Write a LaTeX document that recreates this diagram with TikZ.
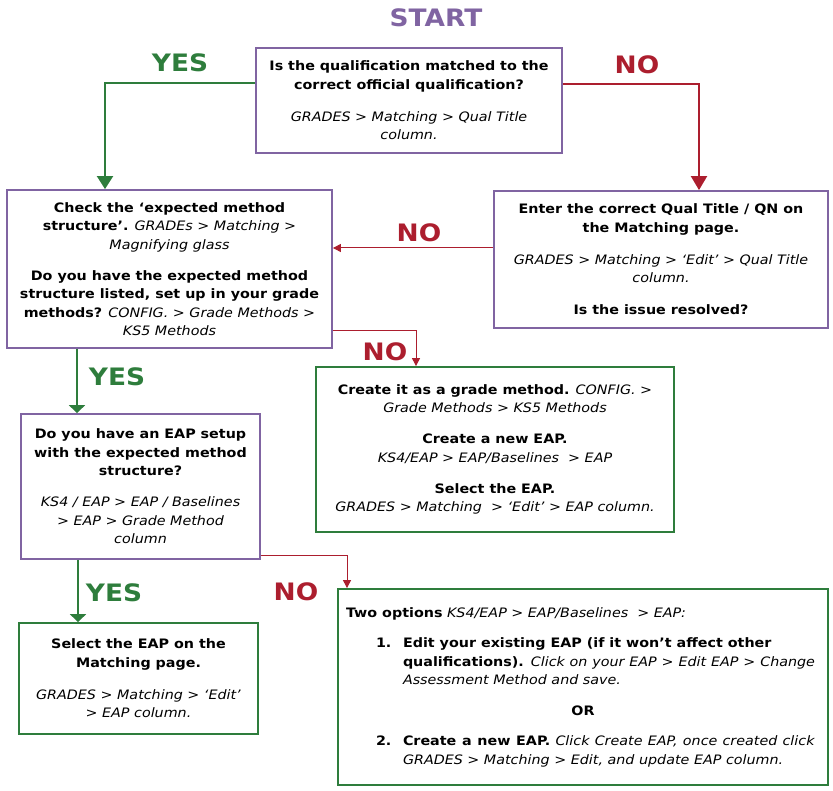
\documentclass[tikz,border=0pt]{standalone}
\usepackage{fontspec}
\setmainfont{DejaVu Sans}[FakeStretch=1.1]
\usetikzlibrary{arrows.meta}

\definecolor{qpurple}{RGB}{128,100,162}
\definecolor{okgreen}{RGB}{46,125,60}
\definecolor{nored}{RGB}{172,30,46}

\begin{document}
\begin{tikzpicture}[
  x=1pt, y=-1pt,
  font=\fontsize{13}{18.5}\selectfont,
  q/.style={draw=qpurple, line width=1.8pt, align=center, inner sep=0pt},
  act/.style={draw=okgreen, line width=1.8pt, align=center, inner sep=0pt},
  lbl/.style={font=\fontsize{24}{24}\selectfont\bfseries},
  yarr/.style={draw=okgreen, line width=2pt, -{Triangle[width=16pt,length=13pt]}},
  yarrs/.style={draw=okgreen, line width=2pt, -{Triangle[width=16pt,length=8pt]}},
  narr/.style={draw=nored, line width=2pt, -{Triangle[width=16pt,length=14pt]}},
  narrs/.style={draw=nored, line width=1pt, -{Triangle[width=8pt,length=8pt]}},
]
\useasboundingbox (0,0) rectangle (833,791);

% boxes
\node[q, minimum width=306pt, minimum height=105pt] (q1) at (409,100.5) {%
  \textbf{Is the qualification matched to the}\\
  \textbf{correct official qualification?}\\[13.5pt]
  \textit{GRADES > Matching > Qual Title}\\
  \textit{column.}};
\node[q, minimum width=325pt, minimum height=158pt] (check) at (169.5,269) {%
  \textbf{Check the ‘expected method}\\
  \textbf{structure’.} \textit{GRADEs > Matching >}\\
  \textit{Magnifying glass}\\[12.5pt]
  \textbf{Do you have the expected method}\\
  \textbf{structure listed, set up in your grade}\\
  \textbf{methods?} \textit{CONFIG. > Grade Methods >}\\
  \textit{KS5 Methods}};
\node[q, minimum width=334pt, minimum height=137pt] (enter) at (661,259.5) {%
  \textbf{Enter the correct Qual Title / QN on}\\
  \textbf{the Matching page.}\\[13.5pt]
  \textit{GRADES > Matching > ‘Edit’ > Qual Title}\\
  \textit{column.}\\[13.5pt]
  \textbf{Is the issue resolved?}};
\node[act, minimum width=358pt, minimum height=165pt] (create) at (495,449.5) {%
  \textbf{Create it as a grade method.} \textit{CONFIG. >}\\
  \textit{Grade Methods > KS5 Methods}\\[12.5pt]
  \textbf{Create a new EAP.}\\
  \textit{KS4/EAP > EAP/Baselines\ \ > EAP}\\[12.5pt]
  \textbf{Select the EAP.}\\
  \textit{GRADES > Matching\ \ > ‘Edit’ > EAP column.}};
\node[q, minimum width=239pt, minimum height=145pt] (eap) at (140.5,486.5) {%
  \textbf{Do you have an EAP setup}\\
  \textbf{with the expected method}\\
  \textbf{structure?}\\[12.5pt]
  \textit{KS4 / EAP > EAP / Baselines}\\
  \textit{> EAP > Grade Method}\\
  \textit{column}};
\node[act, minimum width=239pt, minimum height=111pt] (sel) at (138.5,678.5) {%
  \textbf{Select the EAP on the}\\
  \textbf{Matching page.}\\[13.5pt]
  \textit{GRADES > Matching > ‘Edit’}\\
  \textit{> EAP column.}};
\node[act, minimum width=490pt, minimum height=196pt, text width=474pt, align=justify, inner sep=8pt] (two) at (583,687) {%
  \textbf{Two options} \textit{KS4/EAP > EAP/Baselines\ \ > EAP:}\par
  \vspace{12pt}
  {\leftskip=57pt\rightskip=5pt\noindent\llap{\makebox[27pt][l]{\textbf{1.}}}\textbf{Edit your existing EAP (if it won’t affect other}\newline
  \textbf{qualifications).} \textit{Click on your EAP > Edit EAP > Change}\linebreak
  \textit{Assessment Method and save.}\par}
  \vspace{12pt}
  {\centering\textbf{OR}\par}
  \vspace{12pt}
  {\leftskip=57pt\rightskip=5pt\noindent\llap{\makebox[27pt][l]{\textbf{2.}}}\textbf{Create a new EAP.} \textit{Click Create EAP, once created click}\linebreak
  \textit{GRADES > Matching > Edit, and update EAP column.}\par}};

% labels
\node[lbl, text=qpurple] (start) at (436,18) {START};
\node[lbl, text=okgreen] (yes1) at (180,63) {YES};
\node[lbl, text=nored] (no1) at (637,65) {NO};
\node[lbl, text=nored] (no2) at (419,233) {NO};
\node[lbl, text=nored] (no3) at (385,352) {NO};
\node[lbl, text=okgreen] (yes2) at (117,377) {YES};
\node[lbl, text=okgreen] (yes3) at (114,593) {YES};
\node[lbl, text=nored] (no4) at (296,592) {NO};

% connectors
\coordinate (yesin) at ([xshift=-64.5pt]check.north);
\draw[yarr] ([yshift=17.5pt]q1.west) -| (yesin);
\draw[narr] ([yshift=16.5pt]q1.east) -| ([xshift=38pt]enter.north);
\coordinate (nomid) at ([yshift=11.5pt]enter.west);
\draw[narrs] (nomid) -- (nomid -| check.east);
\draw[narrs] ([yshift=-62pt]check.east) -| ([xshift=-79pt]create.north);
\coordinate (eapin) at ([xshift=-63.5pt]eap.north);
\draw[yarrs] (eapin |- check.south) -- (eapin);
\coordinate (selin) at ([xshift=-60.5pt]sel.north);
\draw[yarrs] (selin |- eap.south) -- (selin);
\draw[narrs] ([yshift=-68.5pt]eap.east) -| ([xshift=-236pt]two.north);
\end{tikzpicture}
\end{document}
